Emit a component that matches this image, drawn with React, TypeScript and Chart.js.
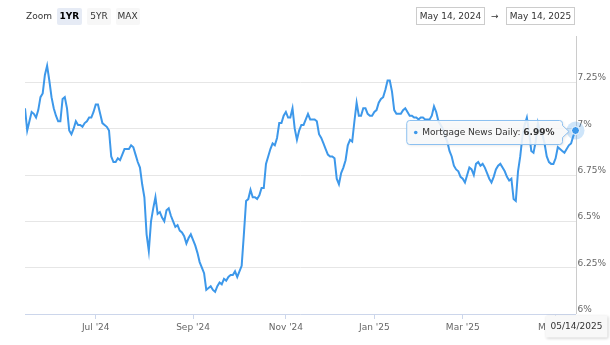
import React, { useEffect, useRef } from 'react';
import { Chart, registerables } from 'chart.js';

Chart.register(...registerables);

// ---- data -------------------------------------------------------------
const seriesName = 'Mortgage News Daily';
const startDate = '2024-05-14';
const endDate = '2025-05-14';

// Days with no published rate (besides weekends)
const marketHolidays = [
  '2024-05-27', '2024-06-19', '2024-07-04', '2024-09-02', '2024-10-14',
  '2024-11-11', '2024-11-28', '2024-12-25', '2025-01-01', '2025-01-20',
  '2025-02-17', '2025-04-18',
];

// 30-year fixed rate (%), one value per trading day
const rates = [
  7.11, 6.99, 7.04, 7.09, 7.08, 7.06, 7.10, 7.17, 7.19, 7.29,
  7.34, 7.26, 7.17, 7.11, 7.07, 7.04, 7.04, 7.16, 7.17, 7.11,
  6.99, 6.97, 7.00, 7.04, 7.02, 7.02, 7.01, 7.03, 7.04, 7.06,
  7.06, 7.09, 7.13, 7.13, 7.08, 7.03, 7.02, 7.01, 6.99, 6.85,
  6.82, 6.82, 6.84, 6.83, 6.86, 6.89, 6.89, 6.89, 6.91, 6.90,
  6.86, 6.82, 6.79, 6.70, 6.63, 6.43, 6.34, 6.50, 6.57, 6.63,
  6.54, 6.55, 6.52, 6.50, 6.56, 6.57, 6.53, 6.50, 6.47, 6.48,
  6.45, 6.44, 6.42, 6.38, 6.41, 6.43, 6.40, 6.37, 6.33, 6.28,
  6.25, 6.22, 6.13, 6.14, 6.15, 6.13, 6.12, 6.15, 6.17, 6.16,
  6.19, 6.18, 6.20, 6.21, 6.21, 6.23, 6.20, 6.23, 6.26, 6.43,
  6.61, 6.62, 6.67, 6.63, 6.63, 6.62, 6.64, 6.68, 6.68, 6.81,
  6.85, 6.89, 6.92, 6.91, 6.95, 7.03, 7.03, 7.07, 7.09, 7.06,
  7.06, 7.11, 7.00, 6.94, 6.99, 7.02, 7.02, 7.05, 7.08, 7.05,
  7.05, 7.05, 7.04, 6.97, 6.95, 6.92, 6.89, 6.86, 6.85, 6.85,
  6.84, 6.73, 6.70, 6.76, 6.79, 6.83, 6.91, 6.94, 6.93, 7.04,
  7.14, 7.07, 7.07, 7.11, 7.11, 7.08, 7.07, 7.07, 7.09, 7.10,
  7.14, 7.16, 7.17, 7.21, 7.26, 7.26, 7.20, 7.10, 7.08, 7.08,
  7.08, 7.10, 7.11, 7.09, 7.07, 7.07, 7.06, 7.06, 7.05, 7.06,
  7.06, 7.05, 7.05, 7.05, 7.07, 7.12, 7.09, 7.04, 7.02, 7.00,
  6.96, 6.93, 6.88, 6.85, 6.80, 6.78, 6.77, 6.74, 6.73, 6.71,
  6.75, 6.79, 6.78, 6.75, 6.81, 6.82, 6.80, 6.81, 6.79, 6.76,
  6.73, 6.71, 6.74, 6.78, 6.80, 6.81, 6.79, 6.77, 6.74, 6.72,
  6.73, 6.62, 6.61, 6.77, 6.85, 6.96, 7.02, 7.06, 6.98, 6.88,
  6.87, 6.93, 7.03, 6.98, 6.97, 6.92, 6.85, 6.82, 6.81, 6.81,
  6.84, 6.90, 6.89, 6.88, 6.87, 6.89, 6.91, 6.92, 6.96, 6.99,
];

const xTickMonths = ['2024-07', '2024-09', '2024-11', '2025-01', '2025-03', '2025-05'];
const xTickLabels = ["Jul '24", "Sep '24", "Nov '24", "Jan '25", "Mar '25", "May '25"];
const yTicks = [6, 6.25, 6.5, 6.75, 7, 7.25];
const zoomButtons = ['1YR', '5YR', 'MAX'];
const selectedZoom = '1YR';

// ---- styling ----------------------------------------------------------
const LINE = '#3d98ea';
const FONT = '"DejaVu Sans", Verdana, sans-serif';
const MONTHS = ['Jan', 'Feb', 'Mar', 'Apr', 'May', 'Jun', 'Jul', 'Aug', 'Sep', 'Oct', 'Nov', 'Dec'];

function tradingDays(start: string, end: string, holidays: string[]): string[] {
  const out: string[] = [];
  const d = new Date(start + 'T00:00:00Z');
  const stop = new Date(end + 'T00:00:00Z');
  while (d.getTime() <= stop.getTime()) {
    const dow = d.getUTCDay();
    const iso = d.toISOString().slice(0, 10);
    if (dow !== 0 && dow !== 6 && !holidays.includes(iso)) out.push(iso);
    d.setUTCDate(d.getUTCDate() + 1);
  }
  return out;
}

function longDate(iso: string): string {
  const [y, m, d] = iso.split('-').map(Number);
  return `${MONTHS[m - 1]} ${d}, ${y}`;
}

function slashDate(iso: string): string {
  const [y, m, d] = iso.split('-');
  return `${m}/${d}/${y}`;
}

const dates = tradingDays(startDate, endDate, marketHolidays);
const count = Math.min(dates.length, rates.length);
const lastIndex = count - 1;
const tickIndex = xTickMonths.map((m) => dates.findIndex((d) => d.startsWith(m)));

function roundRectPath(ctx: CanvasRenderingContext2D, x: number, y: number, w: number, h: number, r: number) {
  ctx.beginPath();
  ctx.moveTo(x + r, y);
  ctx.lineTo(x + w - r, y);
  ctx.arcTo(x + w, y, x + w, y + r, r);
  ctx.lineTo(x + w, y + h - r);
  ctx.arcTo(x + w, y + h, x + w - r, y + h, r);
  ctx.lineTo(x + r, y + h);
  ctx.arcTo(x, y + h, x, y + h - r, r);
  ctx.lineTo(x, y + r);
  ctx.arcTo(x, y, x + r, y, r);
  ctx.closePath();
}

// Crosshair, hovered marker, tooltip and axis date label for the latest point
const hoverPlugin = {
  id: 'hoverState',
  beforeDatasetsDraw(chart: any) {
    const { ctx, chartArea, scales } = chart;
    const px = Math.round(scales.x.getPixelForValue(lastIndex)) + 0.5;
    ctx.save();
    ctx.strokeStyle = '#cccccc';
    ctx.lineWidth = 1;
    ctx.beginPath();
    ctx.moveTo(px, chartArea.top);
    ctx.lineTo(px, chartArea.bottom);
    ctx.stroke();
    ctx.restore();
  },
  afterDatasetsDraw(chart: any) {
    const { ctx, scales, width, chartArea } = chart;
    const value = rates[lastIndex];
    const px = scales.x.getPixelForValue(lastIndex);
    const py = scales.y.getPixelForValue(value);
    ctx.save();

    // halo and marker
    ctx.fillStyle = 'rgba(61,152,234,0.25)';
    ctx.beginPath();
    ctx.arc(px, py, 9, 0, Math.PI * 2);
    ctx.fill();
    ctx.fillStyle = LINE;
    ctx.strokeStyle = '#ffffff';
    ctx.lineWidth = 1;
    ctx.beginPath();
    ctx.arc(px, py, 4, 0, Math.PI * 2);
    ctx.fill();
    ctx.stroke();

    // tooltip
    const label = `${seriesName}: `;
    const valText = `${value.toFixed(2)}%`;
    ctx.font = `9px ${FONT}`;
    const wLabel = ctx.measureText(label).width;
    ctx.font = `bold 9px ${FONT}`;
    const wVal = ctx.measureText(valText).width;
    const boxW = 15.5 + wLabel + wVal + 8;
    const boxH = 24;
    const right = Math.round(px - 14) + 0.5;
    const left = right - boxW;
    const top = Math.round(py - 11) + 0.5;
    const cy = py + 1;
    const r = 3;
    ctx.beginPath();
    ctx.moveTo(left + r, top);
    ctx.lineTo(right - r, top);
    ctx.arcTo(right, top, right, top + r, r);
    ctx.lineTo(right, cy - 6);
    ctx.lineTo(right + 6.5, cy);
    ctx.lineTo(right, cy + 6);
    ctx.lineTo(right, top + boxH - r);
    ctx.arcTo(right, top + boxH, right - r, top + boxH, r);
    ctx.lineTo(left + r, top + boxH);
    ctx.arcTo(left, top + boxH, left, top + boxH - r, r);
    ctx.lineTo(left, top + r);
    ctx.arcTo(left, top, left + r, top, r);
    ctx.closePath();
    ctx.shadowColor = 'rgba(0,0,0,0.12)';
    ctx.shadowOffsetX = 1;
    ctx.shadowOffsetY = 1;
    ctx.shadowBlur = 3;
    ctx.fillStyle = 'rgba(249,250,252,0.88)';
    ctx.fill();
    ctx.shadowColor = 'transparent';
    ctx.strokeStyle = '#8cc0f0';
    ctx.lineWidth = 1;
    ctx.stroke();

    ctx.fillStyle = LINE;
    ctx.beginPath();
    ctx.arc(left + 9, top + boxH / 2, 1.8, 0, Math.PI * 2);
    ctx.fill();
    ctx.textBaseline = 'middle';
    ctx.textAlign = 'left';
    ctx.fillStyle = '#333333';
    ctx.font = `9px ${FONT}`;
    ctx.fillText(label, left + 15.5, top + boxH / 2 + 0.5);
    ctx.font = `bold 9px ${FONT}`;
    ctx.fillText(valText, left + 15.5 + wLabel, top + boxH / 2 + 0.5);

    // crosshair date label on the x axis
    const dateText = slashDate(dates[lastIndex]);
    ctx.font = `9px ${FONT}`;
    const dw = ctx.measureText(dateText).width + 10;
    const dx = Math.min(width - dw - 1, px - dw / 2);
    const dy = chartArea.bottom + 1.5;
    roundRectPath(ctx, Math.round(dx) + 0.5, dy, dw, 22, 1);
    ctx.shadowColor = 'rgba(0,0,0,0.18)';
    ctx.shadowOffsetX = 1;
    ctx.shadowOffsetY = 1;
    ctx.shadowBlur = 3;
    ctx.fillStyle = '#f8f8f8';
    ctx.fill();
    ctx.shadowColor = 'transparent';
    ctx.fillStyle = '#333333';
    ctx.textAlign = 'center';
    ctx.fillText(dateText, Math.round(dx) + 0.5 + dw / 2, dy + 11.5);
    ctx.restore();
  },
};

export default function App() {
  const canvasRef = useRef<HTMLCanvasElement | null>(null);

  useEffect(() => {
    const canvas = canvasRef.current;
    if (!canvas) return;
    const points = rates.slice(0, count).map((v, i) => ({ x: i, y: v }));
    const chart = new Chart(canvas, {
      type: 'line',
      data: {
        datasets: [
          {
            label: seriesName,
            data: points,
            borderColor: LINE,
            borderWidth: 2,
            pointRadius: 0,
            tension: 0,
            fill: false,
          },
        ],
      },
      options: {
        responsive: false,
        animation: false,
        events: [],
        layout: { padding: { left: 25, top: 36, right: 0, bottom: 0 } },
        plugins: { legend: { display: false }, tooltip: { enabled: false } },
        scales: {
          x: {
            type: 'linear',
            min: 0,
            max: lastIndex,
            afterBuildTicks: (s: any) => {
              s.ticks = tickIndex.filter((v) => v >= 0).map((v) => ({ value: v }));
            },
            afterFit: (s: any) => {
              s.height = 31;
            },
            ticks: {
              autoSkip: false,
              maxRotation: 0,
              padding: 3,
              color: '#666666',
              font: { family: FONT, size: 9 },
              callback: (v: any) => {
                const k = tickIndex.indexOf(Number(v));
                return k >= 0 ? xTickLabels[k] : '';
              },
            },
            grid: { drawOnChartArea: false, drawTicks: true, tickLength: 5, color: '#ccd6eb' },
            border: { display: true, color: '#ccd6eb' },
          },
          y: {
            position: 'right',
            min: 6,
            max: 7.5,
            afterBuildTicks: (s: any) => {
              s.ticks = yTicks.map((v) => ({ value: v }));
            },
            afterFit: (s: any) => {
              s.width = 34.5;
            },
            ticks: {
              padding: 2,
              align: 'end',
              color: '#666666',
              font: { family: FONT, size: 9 },
              callback: (v: any) => `${v}%`,
            },
            grid: { color: '#e6e6e6', drawTicks: false },
            border: { display: false },
          },
        },
      },
      plugins: [hoverPlugin],
    } as any);
    return () => chart.destroy();
  }, []);

  const textStyle: React.CSSProperties = {
    position: 'absolute',
    fontFamily: FONT,
    fontSize: 9,
    color: '#333333',
    lineHeight: '17px',
    whiteSpace: 'nowrap',
  };
  const buttonLeft = [57, 87, 115.5];
  const buttonWidth = [24.5, 24, 24];

  return (
    <div style={{ position: 'absolute', left: 0, top: 0, width: 610, height: 345, background: '#ffffff', overflow: 'hidden' }}>
      <canvas ref={canvasRef} width={610} height={345} style={{ position: 'absolute', left: 0, top: 0 }} />
      <div style={{ ...textStyle, left: 26, top: 7.5 }}>Zoom</div>
      {zoomButtons.map((b, i) => (
        <div
          key={b}
          style={{
            ...textStyle,
            left: buttonLeft[i],
            top: 7.5,
            width: buttonWidth[i],
            height: 17,
            textAlign: 'center',
            borderRadius: 2,
            background: b === selectedZoom ? '#e6ebf5' : '#f7f7f7',
            fontWeight: b === selectedZoom ? 'bold' : 'normal',
            color: b === selectedZoom ? '#000000' : '#333333',
          }}
        >
          {b}
        </div>
      ))}
      <div style={{ ...textStyle, left: 416, top: 7, width: 67, height: 16, lineHeight: '16px', border: '1px solid #cccccc', textAlign: 'center' }}>
        {longDate(dates[0])}
      </div>
      <div style={{ ...textStyle, left: 491, top: 7.5, fontSize: 9 }}>→</div>
      <div style={{ ...textStyle, left: 506, top: 7, width: 67, height: 16, lineHeight: '16px', border: '1px solid #cccccc', textAlign: 'center' }}>
        {longDate(dates[lastIndex])}
      </div>
    </div>
  );
}
